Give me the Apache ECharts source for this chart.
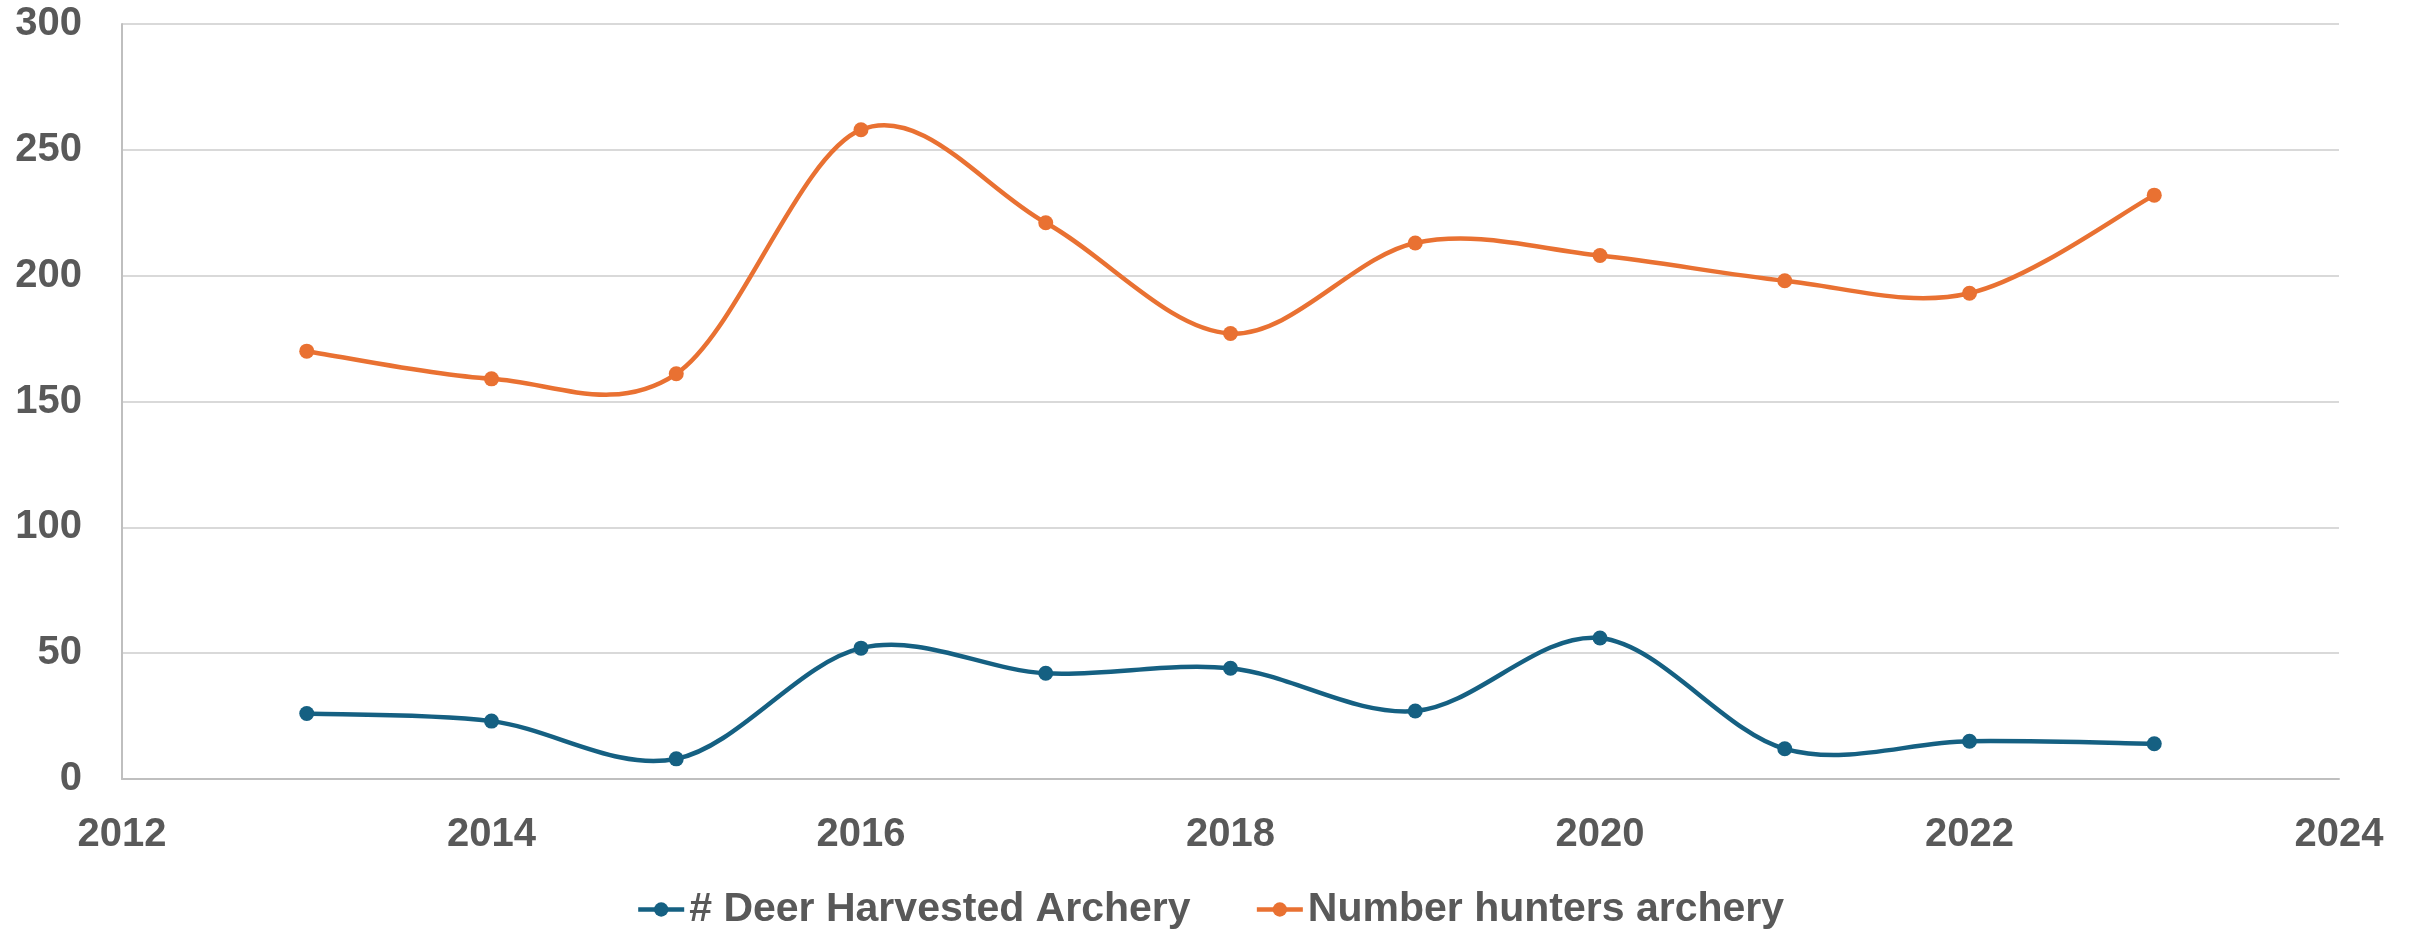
<!DOCTYPE html>
<html>
<head>
<meta charset="utf-8">
<script src="https://cdn.jsdelivr.net/npm/echarts@6/dist/echarts.min.js"></script>
<style>
  html, body { margin: 0; padding: 0; background: #fff; }
  #main { width: 2420px; height: 930px; }
</style>
</head>
<body>
<div id="main"></div>
<script>
        var years = [2013, 2014, 2015, 2016, 2017, 2018, 2019, 2020, 2021, 2022, 2023];
        var deerHarvested = [26, 23, 8, 52, 42, 44, 27, 56, 12, 15, 14];
        var hunters = [170, 159, 161, 258, 221, 177, 213, 208, 198, 193, 232];

        var blue = '#156082';
        var orange = '#e97132';

        var myChart = echarts.init(document.getElementById('main'));

        function pairs(vals) {
            return years.map(function (y, i) { return [y, vals[i]]; });
        }

        // spreadsheet-style smoothed curve (catmull-rom as bezier), one segment per point
        function curve(vals, color) {
            return {
                type: 'custom',
                silent: true,
                clip: false,
                z: 1,
                data: pairs(vals),
                renderItem: function (params, api) {
                    var i = params.dataIndex;
                    var n = years.length;
                    if (i >= n - 1) return null;
                    var p = function (k) {
                        k = Math.max(0, Math.min(n - 1, k));
                        return api.coord([years[k], vals[k]]);
                    };
                    var p0 = p(i - 1), p1 = p(i), p2 = p(i + 1), p3 = p(i + 2);
                    var c1 = [p1[0] + (p2[0] - p0[0]) / 6, p1[1] + (p2[1] - p0[1]) / 6];
                    var c2 = [p2[0] - (p3[0] - p1[0]) / 6, p2[1] - (p3[1] - p1[1]) / 6];
                    return {
                        type: 'path',
                        shape: {
                            pathData: 'M' + p1[0] + ' ' + p1[1] +
                                ' C' + c1[0] + ' ' + c1[1] + ' ' + c2[0] + ' ' + c2[1] + ' ' + p2[0] + ' ' + p2[1]
                        },
                        style: { stroke: color, lineWidth: 4.5, fill: null, lineCap: 'round' }
                    };
                }
            };
        }

        var labelStyle = {
            color: '#595959',
            fontFamily: 'Liberation Sans, Arial, sans-serif',
            fontWeight: 'bold',
            fontSize: 40
        };

        var option = {
            animation: false,
            grid: {
                left: 122,
                right: 81,
                top: 24,
                bottom: 151
            },
            legend: {
                bottom: -5,
                left: 'center',
                itemWidth: 46,
                itemHeight: 18,
                itemGap: 64,
                textStyle: Object.assign({}, labelStyle, { fontSize: 41 }),
                data: [
                    { name: '# Deer Harvested Archery', lineStyle: { width: 4.5, opacity: 1, color: blue } },
                    { name: 'Number hunters archery', lineStyle: { width: 4.5, opacity: 1, color: orange } }
                ]
            },
            xAxis: {
                type: 'value',
                min: 2012,
                max: 2024,
                interval: 2,
                axisLine: { show: true, lineStyle: { color: '#bfbfbf', width: 2 } },
                axisTick: { show: false },
                splitLine: { show: false },
                axisLabel: Object.assign({ margin: 36, formatter: function (v) { return String(v); } }, labelStyle)
            },
            yAxis: {
                type: 'value',
                min: 0,
                max: 300,
                interval: 50,
                axisLine: { show: true, lineStyle: { color: '#bfbfbf', width: 2 } },
                axisTick: { show: false },
                splitLine: { lineStyle: { color: '#d9d9d9', width: 2 } },
                axisLabel: Object.assign({ margin: 40 }, labelStyle)
            },
            series: [
                curve(deerHarvested, blue),
                curve(hunters, orange),
                {
                    name: '# Deer Harvested Archery',
                    type: 'line',
                    z: 3,
                    symbol: 'circle',
                    symbolSize: 15,
                    color: blue,
                    lineStyle: { width: 4.5, opacity: 0 },
                    data: pairs(deerHarvested)
                },
                {
                    name: 'Number hunters archery',
                    type: 'line',
                    z: 3,
                    symbol: 'circle',
                    symbolSize: 15,
                    color: orange,
                    lineStyle: { width: 4.5, opacity: 0 },
                    data: pairs(hunters)
                }
            ]
        };

        myChart.setOption(option);
</script>
</body>
</html>
